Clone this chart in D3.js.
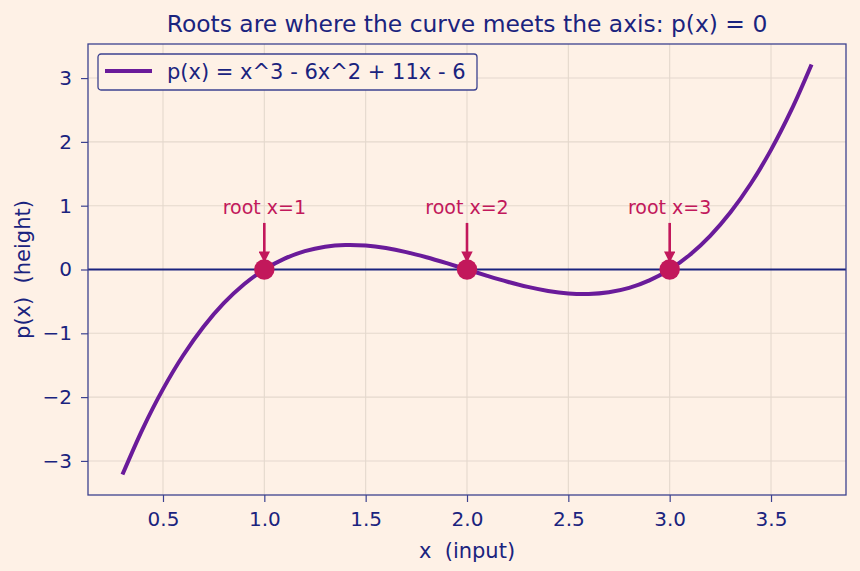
<!DOCTYPE html>
<html>
<head>
<meta charset="utf-8">
<script src="https://cdn.jsdelivr.net/npm/d3@7"></script>
<style>
  body { margin: 0; background: #fef1e6; }
  svg text { font-family: "DejaVu Sans", sans-serif; white-space: pre; }
</style>
</head>
<body>
<div id="chart"></div>
<script>
// curve samples
var xs = [0.3, 0.4, 0.5, 0.6, 0.7, 0.8, 0.9, 1.0, 1.1, 1.2, 1.3, 1.4, 1.5, 1.6, 1.7, 1.8, 1.9,
          2.0, 2.1, 2.2, 2.3, 2.4, 2.5, 2.6, 2.7, 2.8, 2.9, 3.0, 3.1, 3.2, 3.3, 3.4, 3.5, 3.6, 3.7];
var ys = [-3.213, -2.496, -1.875, -1.344, -0.897, -0.528, -0.231, 0, 0.171, 0.288, 0.357, 0.384, 0.375, 0.336, 0.273, 0.192, 0.099,
          0, -0.099, -0.192, -0.273, -0.336, -0.375, -0.384, -0.357, -0.288, -0.171, 0, 0.231, 0.528, 0.897, 1.344, 1.875, 2.496, 3.213];
var roots = [1, 2, 3];
var rootLabels = ["root x=1", "root x=2", "root x=3"];
var xTicks = [0.5, 1.0, 1.5, 2.0, 2.5, 3.0, 3.5];
var yTicks = [-3, -2, -1, 0, 1, 2, 3];

var W = 860, H = 571;
var margin = { top: 44, right: 14, bottom: 76, left: 88 };
var width = W - margin.left - margin.right,
    height = H - margin.top - margin.bottom;

var navy = "#1a237e", curveCol = "#6a1b9a", rootCol = "#c2185b";
var FONT = "DejaVu Sans, sans-serif";

var x = d3.scaleLinear().domain([0.13, 3.87]).range([0, width]);
var y = d3.scaleLinear().domain([-3.534, 3.534]).range([height, 0]);

var svg = d3.select("#chart").append("svg")
  .attr("width", W).attr("height", H)
  .style("background", "#fef1e6");

var defs = svg.append("defs");
defs.append("marker")
  .attr("id", "arrow")
  .attr("viewBox", "0 0 10 10")
  .attr("refX", 8).attr("refY", 5)
  .attr("markerWidth", 4.4).attr("markerHeight", 4.4)
  .attr("markerUnits", "strokeWidth")
  .attr("orient", "auto")
  .append("path").attr("d", "M0,0 L10,5 L0,10 z").attr("fill", rootCol);

var g = svg.append("g").attr("transform", "translate(" + margin.left + "," + margin.top + ")");

// grid
g.selectAll(".gx").data(xTicks).enter().append("line")
  .attr("x1", d => x(d)).attr("x2", d => x(d))
  .attr("y1", 0).attr("y2", height)
  .attr("stroke", "#e4d8cd").attr("stroke-width", 1.1);
g.selectAll(".gy").data(yTicks).enter().append("line")
  .attr("y1", d => y(d)).attr("y2", d => y(d))
  .attr("x1", 0).attr("x2", width)
  .attr("stroke", "#e4d8cd").attr("stroke-width", 1.1);

// zero line
g.append("line")
  .attr("x1", 0).attr("x2", width)
  .attr("y1", y(0)).attr("y2", y(0))
  .attr("stroke", navy).attr("stroke-width", 1.8);

// curve
var pts = xs.map((d, i) => [d, ys[i]]);
g.append("path")
  .datum(pts)
  .attr("fill", "none")
  .attr("stroke", curveCol)
  .attr("stroke-width", 4)
  .attr("stroke-linecap", "butt")
  .attr("d", d3.line().x(d => x(d[0])).y(d => y(d[1])).curve(d3.curveCatmullRom));

// root markers + annotations
roots.forEach(function(r, i) {
  g.append("line")
    .attr("x1", x(r)).attr("x2", x(r))
    .attr("y1", y(0.73)).attr("y2", y(0.14))
    .attr("stroke", rootCol).attr("stroke-width", 2.6)
    .attr("marker-end", "url(#arrow)");
  g.append("circle")
    .attr("cx", x(r)).attr("cy", y(0))
    .attr("r", 10.2)
    .attr("fill", rootCol);
  g.append("text")
    .attr("x", x(r)).attr("y", y(1) + 8)
    .attr("text-anchor", "middle")
    .attr("font-family", FONT)
    .attr("font-size", "19px")
    .attr("fill", rootCol)
    .text(rootLabels[i]);
});

// axes
var xAxis = g.append("g").attr("transform", "translate(0," + height + ")")
  .call(d3.axisBottom(x).tickValues(xTicks).tickFormat(d3.format(".1f")).tickSizeOuter(0).tickSize(7).tickPadding(10));
var yAxis = g.append("g")
  .call(d3.axisLeft(y).tickValues(yTicks).tickFormat(d => d < 0 ? "\u2212" + Math.abs(d) : d).tickSizeOuter(0).tickSize(7).tickPadding(9));
[xAxis, yAxis].forEach(function(a) {
  a.attr("font-family", FONT).attr("font-size", 20);
  a.select(".domain").remove();
  a.selectAll("line").attr("stroke", "#3c4290").attr("stroke-width", 1.2);
  a.selectAll("text").attr("fill", navy);
});

// spines
g.append("rect")
  .attr("x", 0).attr("y", 0).attr("width", width).attr("height", height)
  .attr("fill", "none").attr("stroke", "#3c4290").attr("stroke-width", 1.3);

// legend
var leg = g.append("g").attr("transform", "translate(10,10)");
leg.append("rect")
  .attr("width", 379).attr("height", 36).attr("rx", 3)
  .attr("fill", "#fef1e6").attr("stroke", "#3c4290").attr("stroke-width", 1.3);
leg.append("line")
  .attr("x1", 7).attr("x2", 54).attr("y1", 17).attr("y2", 17)
  .attr("stroke", curveCol).attr("stroke-width", 4);
leg.append("text")
  .attr("x", 69).attr("y", 25)
  .attr("font-family", FONT)
  .attr("font-size", "21px").attr("fill", navy)
  .text("p(x) = x^3 - 6x^2 + 11x - 6");

// title and labels
svg.append("text")
  .attr("x", margin.left + width / 2).attr("y", 32)
  .attr("text-anchor", "middle")
  .attr("font-family", FONT)
  .attr("font-size", "23.4px").attr("fill", navy)
  .text("Roots are where the curve meets the axis: p(x) = 0");
svg.append("text")
  .attr("x", margin.left + width / 2).attr("y", 558)
  .attr("text-anchor", "middle")
  .attr("font-family", FONT)
  .attr("font-size", "21px").attr("fill", navy)
  .text("x  (input)");
svg.append("text")
  .attr("transform", "translate(30," + (margin.top + y(0)) + ") rotate(-90)")
  .attr("text-anchor", "middle")
  .attr("font-family", FONT)
  .attr("font-size", "21px").attr("fill", navy)
  .text("p(x)  (height)");
</script>
</body>
</html>
